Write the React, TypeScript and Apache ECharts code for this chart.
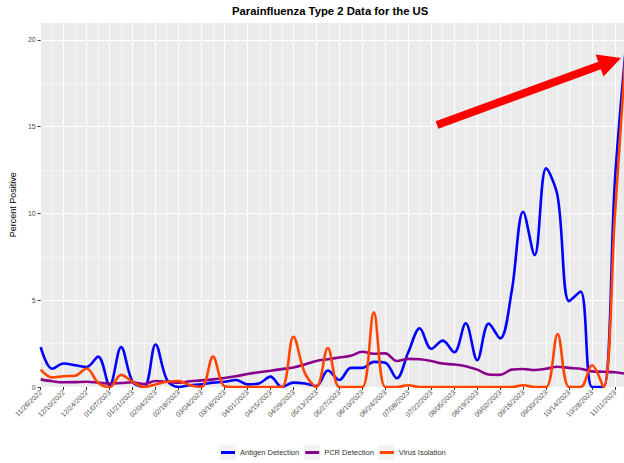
import React, { useEffect, useRef } from 'react';
import * as echarts from 'echarts';

const dates = [
  '11/26/2022', '12/03/2022', '12/10/2022', '12/17/2022', '12/24/2022', '12/31/2022',
  '01/07/2023', '01/14/2023', '01/21/2023', '01/28/2023', '02/04/2023', '02/11/2023',
  '02/18/2023', '02/25/2023', '03/04/2023', '03/11/2023', '03/18/2023', '03/25/2023',
  '04/01/2023', '04/08/2023', '04/15/2023', '04/22/2023', '04/29/2023', '05/06/2023',
  '05/13/2023', '05/20/2023', '05/27/2023', '06/03/2023', '06/10/2023', '06/17/2023',
  '06/24/2023', '07/01/2023', '07/08/2023', '07/15/2023', '07/22/2023', '07/29/2023',
  '08/05/2023', '08/12/2023', '08/19/2023', '08/26/2023', '09/02/2023', '09/09/2023',
  '09/16/2023', '09/23/2023', '09/30/2023', '10/07/2023', '10/14/2023', '10/21/2023',
  '10/28/2023', '11/04/2023', '11/11/2023', '11/18/2023',
];

const antigen = [
  2.3, 1.05, 1.35, 1.25, 1.15, 1.75, 0.1, 2.3, 0.3, 0.0, 2.45, 0.4, 0.0, 0.1, 0.15, 0.25,
  0.3, 0.4, 0.15, 0.2, 0.6, 0.0, 0.25, 0.2, 0.05, 0.95, 0.4, 1.1, 1.1, 1.45, 1.4, 0.5,
  2.0, 3.38, 2.2, 2.67, 2.0, 3.67, 1.55, 3.65, 2.8, 5.5, 10.1, 7.6, 12.6, 11.0, 4.95, 5.5,
  0.0, 0.0, 12.0, 20.0,
];

const pcr = [
  0.44, 0.33, 0.27, 0.28, 0.3, 0.25, 0.2, 0.23, 0.27, 0.17, 0.35, 0.3, 0.25, 0.33, 0.38, 0.44,
  0.52, 0.62, 0.75, 0.85, 0.94, 1.03, 1.12, 1.3, 1.5, 1.6, 1.7, 1.8, 2.03, 1.92, 1.94, 1.5,
  1.62, 1.6, 1.5, 1.35, 1.3, 1.2, 1.0, 0.72, 0.7, 1.0, 1.04, 0.98, 1.05, 1.17, 1.1, 1.05,
  0.9, 0.88, 0.85, 0.75,
];

const virus = [
  1.0, 0.55, 0.62, 0.65, 1.07, 0.25, 0.0, 0.7, 0.3, 0.0, 0.15, 0.3, 0.35, 0.1, 0.0, 1.75,
  0.05, 0.0, 0.0, 0.0, 0.0, 0.0, 2.9, 0.8, 0.0, 2.25, 0.0, 0.0, 0.0, 4.3, 0.0, 0.0,
  0.1, 0.0, 0.0, 0.0, 0.0, 0.0, 0.0, 0.0, 0.0, 0.0, 0.1, 0.0, 0.0, 3.05, 0.0, 0.0,
  1.25, 0.0, 10.0, 20.0,
];

const seriesNames = ['Antigen Detection', 'PCR Detection', 'Virus Isolation'];
const seriesColors = ['#0000FF', '#8B008B', '#FF4500'];

export default function App() {
  const ref = useRef<HTMLDivElement>(null);

  useEffect(() => {
    if (!ref.current) return;
    const chart = echarts.init(ref.current, null, { renderer: 'svg' });
    const font = "'Liberation Sans', Arial, sans-serif";
    const toPts = (arr: number[]) => arr.map((v, i) => [i, v]);
    const values = [antigen, pcr, virus];

    chart.setOption({
      animation: false,
      backgroundColor: '#FFFFFF',
      textStyle: { fontFamily: font },
      title: {
        text: 'Parainfluenza Type 2 Data for the US',
        left: 227,
        top: 0,
        textStyle: { fontSize: 11.3, fontWeight: 'bold', color: '#000', fontFamily: font },
      },
      grid: {
        left: 35,
        right: 0,
        top: 22.6,
        bottom: 76,
        show: true,
        backgroundColor: '#EBEBEB',
        borderWidth: 0,
        containLabel: false,
      },
      legend: {
        data: seriesNames,
        left: 216,
        top: 443.5,
        icon: 'rect',
        itemWidth: 14,
        itemHeight: 3,
        itemGap: 6,
        textStyle: { fontSize: 7.5, color: '#333', fontFamily: font },
      },
      xAxis: {
        type: 'value',
        min: 0,
        max: 50.78,
        interval: 2,
        axisLine: { show: false },
        axisTick: { show: true, length: 3, lineStyle: { color: '#333', width: 1 } },
        axisLabel: {
          rotate: 45,
          fontSize: 7,
          color: '#4D4D4D',
          margin: 4,
          showMaxLabel: false,
          fontFamily: font,
          formatter: (v: number) => (Number.isInteger(v) && dates[v] ? dates[v] : ''),
        },
        splitLine: { show: true, lineStyle: { color: '#FFFFFF', width: 1 } },
        minorTick: { show: false, splitNumber: 2 },
        minorSplitLine: { show: true, lineStyle: { color: '#FFFFFF', width: 0.5 } },
      },
      yAxis: {
        type: 'value',
        min: 0,
        max: 21,
        interval: 5,
        name: 'Percent Positive',
        nameLocation: 'middle',
        nameGap: 16,
        nameTextStyle: { fontSize: 9, color: '#000', fontFamily: font },
        axisLine: { show: false },
        axisTick: { show: true, length: 3, lineStyle: { color: '#333', width: 1 } },
        axisLabel: { fontSize: 7, color: '#4D4D4D', margin: 5, showMaxLabel: false, fontFamily: font },
        splitLine: { show: true, lineStyle: { color: '#FFFFFF', width: 1 } },
        minorTick: { show: false, splitNumber: 2 },
        minorSplitLine: { show: true, lineStyle: { color: '#FFFFFF', width: 0.5 } },
      },
      series: seriesNames.map((name, k) => ({
        name,
        type: 'line',
        data: toPts(values[k]),
        smooth: 0.35,
        showSymbol: false,
        clip: true,
        color: seriesColors[k],
        lineStyle: { color: seriesColors[k], width: 2.6 },
      })),
      graphic: [
        { type: 'rect', z: 0, shape: { x: 219.5, y: 445, width: 16.5, height: 15 }, style: { fill: '#F2F2F2' } },
        { type: 'rect', z: 0, shape: { x: 303.5, y: 445, width: 16.5, height: 15 }, style: { fill: '#F2F2F2' } },
        { type: 'rect', z: 0, shape: { x: 378.5, y: 445, width: 16.5, height: 15 }, style: { fill: '#F2F2F2' } },
        {
          type: 'line',
          z: 100,
          shape: { x1: 437, y1: 125, x2: 601, y2: 65 },
          style: { stroke: '#FF0000', lineWidth: 8 },
        },
        {
          type: 'polygon',
          z: 100,
          shape: { points: [[621, 58], [595.6, 54.5], [603.5, 76.5]] },
          style: { fill: '#FF0000' },
        },
      ],
    });

    return () => chart.dispose();
  }, []);

  return (
    <div
      ref={ref}
      style={{ position: 'absolute', left: 0, top: 0, width: 624, height: 463 }}
    />
  );
}
